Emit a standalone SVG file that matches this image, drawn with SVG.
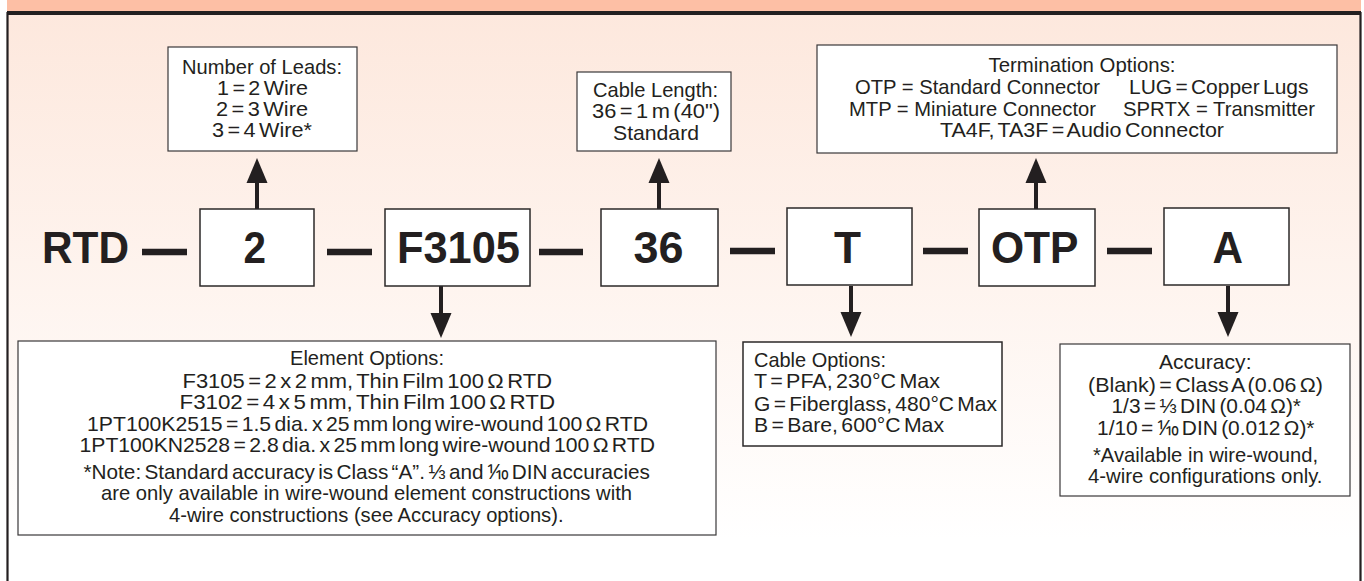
<svg xmlns="http://www.w3.org/2000/svg" width="1364" height="581" viewBox="0 0 1364 581">
<style>
.box{fill:#fff;stroke:#3a3839;stroke-width:1.2}
.key{fill:#fff;stroke:#2b2829;stroke-width:1.5}
text{font-family:"Liberation Sans",Arial,sans-serif;fill:#231f20}
.t{font-size:21px}
.w{word-spacing:-2.5px}
.b{font-size:44px;font-weight:bold}
.line{stroke:#231f20;stroke-width:4;fill:none}
.dash{stroke:#231f20;stroke-width:6.5;fill:none}
</style>
<defs>
<linearGradient id="bg" x1="0" y1="0" x2="0" y2="1">
<stop offset="0" stop-color="#fde8dd"/><stop offset="1" stop-color="#ffffff"/>
</linearGradient>
<polygon id="up" points="0,0 10.5,25 -10.5,25" fill="#231f20"/>
<polygon id="down" points="0,0 10.5,-25 -10.5,-25" fill="#231f20"/>
</defs>
<rect width="1364" height="581" fill="#fff"/>
<rect x="7" y="13" width="1354" height="527" fill="url(#bg)"/>
<rect x="7" y="0" width="1354" height="12" fill="#fdbfa5"/>
<path d="M7.5 581V13H1360.5V581" fill="none" stroke="#231f20" stroke-width="2.2"/>
<rect x="7" y="11" width="1354" height="4" fill="#231f20"/>

<g id="connectors">
<path class="line" d="M257 209V178M659 209V178M1036 209V178M441 286V318M851 286V318M1228 286V318"/>
<use href="#up" x="257" y="158"/><use href="#up" x="659" y="158"/><use href="#up" x="1036" y="158"/>
<use href="#down" x="441" y="338"/><use href="#down" x="851" y="337"/><use href="#down" x="1228" y="337"/>
<path class="dash" d="M142 252H187M327 252H372M539 252H583M730 251H775M923 251H968M1107 251H1152"/>
</g>

<g id="prefix"><text class="b" x="42" y="263" textLength="87" lengthAdjust="spacingAndGlyphs">RTD</text></g>

<g id="node-leads"><rect class="key" x="200" y="209" width="114" height="77"/>
<text class="b" x="243.5" y="263" textLength="22.5" lengthAdjust="spacingAndGlyphs">2</text></g>
<g id="node-element"><rect class="key" x="385" y="209" width="145" height="77"/>
<text class="b" x="397" y="263" textLength="123" lengthAdjust="spacingAndGlyphs">F3105</text></g>
<g id="node-length"><rect class="key" x="601" y="209" width="117" height="77"/>
<text class="b" x="633.5" y="263" textLength="50" lengthAdjust="spacingAndGlyphs">36</text></g>
<g id="node-cable"><rect class="key" x="787" y="208" width="125" height="77"/>
<text class="b" x="834" y="263" textLength="27" lengthAdjust="spacingAndGlyphs">T</text></g>
<g id="node-term"><rect class="key" x="979" y="209" width="116" height="77"/>
<text class="b" x="991" y="263" textLength="87.5" lengthAdjust="spacingAndGlyphs">OTP</text></g>
<g id="node-acc"><rect class="key" x="1164" y="208" width="125" height="77"/>
<text class="b" x="1212.5" y="263" textLength="30.5" lengthAdjust="spacingAndGlyphs">A</text></g>

<g id="info-leads"><rect class="box" x="168" y="47" width="189" height="104"/>
<text class="t" x="182" y="74" textLength="160" lengthAdjust="spacingAndGlyphs">Number of Leads:</text>
<text class="t w" x="217" y="95" textLength="91" lengthAdjust="spacingAndGlyphs">1 = 2 Wire</text>
<text class="t w" x="216" y="116" textLength="92" lengthAdjust="spacingAndGlyphs">2 = 3 Wire</text>
<text class="t w" x="212" y="137" textLength="100" lengthAdjust="spacingAndGlyphs">3 = 4 Wire*</text></g>

<g id="info-length"><rect class="box" x="577" y="72" width="154" height="79"/>
<text class="t" x="593" y="97" textLength="125" lengthAdjust="spacingAndGlyphs">Cable Length:</text>
<text class="t w" x="592" y="118" textLength="128" lengthAdjust="spacingAndGlyphs">36 = 1 m (40")</text>
<text class="t" x="613" y="140" textLength="86" lengthAdjust="spacingAndGlyphs">Standard</text></g>

<g id="info-term"><rect class="box" x="817" y="45" width="520" height="108"/>
<text class="t" x="988.5" y="72" textLength="187" lengthAdjust="spacingAndGlyphs">Termination Options:</text>
<text class="t" x="855" y="94" textLength="245" lengthAdjust="spacingAndGlyphs">OTP = Standard Connector</text>
<text class="t w" x="1129" y="94" textLength="179.5" lengthAdjust="spacingAndGlyphs">LUG = Copper Lugs</text>
<text class="t" x="849" y="116" textLength="247" lengthAdjust="spacingAndGlyphs">MTP = Miniature Connector</text>
<text class="t" x="1123" y="116" textLength="192" lengthAdjust="spacingAndGlyphs">SPRTX = Transmitter</text>
<text class="t w" x="940" y="137" textLength="284" lengthAdjust="spacingAndGlyphs">TA4F, TA3F = Audio Connector</text></g>

<g id="info-element"><rect class="box" x="18" y="341" width="698" height="194"/>
<text class="t" x="290" y="365" textLength="154" lengthAdjust="spacingAndGlyphs">Element Options:</text>
<text class="t w" x="182.5" y="388" textLength="369.5" lengthAdjust="spacingAndGlyphs">F3105 =  2 x 2 mm, Thin Film 100 Ω RTD</text>
<text class="t w" x="179.5" y="409" textLength="375.5" lengthAdjust="spacingAndGlyphs">F3102 =  4 x 5 mm, Thin Film 100 Ω  RTD</text>
<text class="t w" x="87" y="431" textLength="561" lengthAdjust="spacingAndGlyphs">1PT100K2515 = 1.5 dia. x 25 mm long wire-wound 100 Ω RTD</text>
<text class="t w" x="79.5" y="452" textLength="575.5" lengthAdjust="spacingAndGlyphs">1PT100KN2528 = 2.8 dia. x 25 mm long wire-wound 100 Ω RTD</text>
<text class="t w" x="83.5" y="479" textLength="566.5" lengthAdjust="spacingAndGlyphs">*Note: Standard accuracy is Class “A”. ⅓ and ⅒ DIN accuracies</text>
<text class="t" x="101" y="500" textLength="531" lengthAdjust="spacingAndGlyphs">are only available in wire-wound element constructions with</text>
<text class="t" x="169" y="522" textLength="394.5" lengthAdjust="spacingAndGlyphs">4-wire constructions (see Accuracy options).</text></g>

<g id="info-cable"><rect class="key" x="743" y="342" width="259" height="104"/>
<text class="t" x="754" y="367" textLength="132" lengthAdjust="spacingAndGlyphs">Cable Options:</text>
<text class="t w" x="754" y="388" textLength="186" lengthAdjust="spacingAndGlyphs">T = PFA, 230°C Max</text>
<text class="t w" x="754" y="411" textLength="243" lengthAdjust="spacingAndGlyphs">G = Fiberglass, 480°C Max</text>
<text class="t w" x="754" y="432" textLength="190" lengthAdjust="spacingAndGlyphs">B = Bare, 600°C Max</text></g>

<g id="info-accuracy"><rect class="box" x="1060" y="344" width="290" height="152"/>
<text class="t" x="1159" y="369" textLength="92.5" lengthAdjust="spacingAndGlyphs">Accuracy:</text>
<text class="t w" x="1088" y="392" textLength="235" lengthAdjust="spacingAndGlyphs">(Blank) = Class A (0.06 Ω)</text>
<text class="t w" x="1111.5" y="413" textLength="189.5" lengthAdjust="spacingAndGlyphs">1/3 = ⅓ DIN (0.04 Ω)*</text>
<text class="t w" x="1097" y="435" textLength="217.5" lengthAdjust="spacingAndGlyphs">1/10 = ⅒ DIN (0.012 Ω)*</text>
<text class="t" x="1093" y="462" textLength="225" lengthAdjust="spacingAndGlyphs">*Available in wire-wound,</text>
<text class="t" x="1088" y="483" textLength="234.5" lengthAdjust="spacingAndGlyphs">4-wire configurations only.</text></g>
</svg>
